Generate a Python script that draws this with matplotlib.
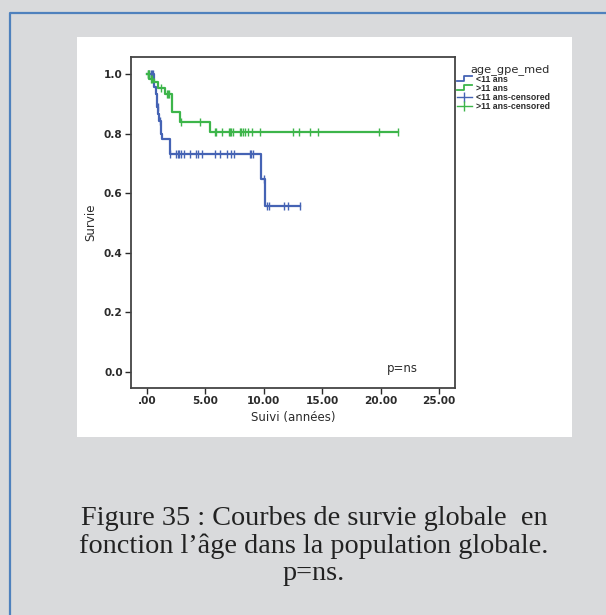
import matplotlib
matplotlib.use("Agg")
import matplotlib.pyplot as plt
import numpy as np
from matplotlib.patches import Rectangle
from matplotlib.lines import Line2D
from matplotlib.legend_handler import HandlerBase

# Kaplan-Meier steps
blue_t = [0, 0.63, 0.75, 0.85, 0.95, 1.05, 1.2, 1.3, 1.94, 9.79, 10.13, 13.07]
blue_s = [1.0, 0.956, 0.933, 0.889, 0.867, 0.844, 0.80, 0.781, 0.731, 0.649, 0.558, 0.558]
blue_cens = [0.2, 0.37, 0.45, 0.54, 0.9, 1.15, 2.0, 2.48, 2.62, 2.77, 2.91, 3.13,
             3.71, 4.22, 4.37, 4.71, 5.85, 6.22, 6.85, 7.22, 7.48, 8.84, 8.93,
             9.04, 9.98, 10.27, 10.41, 11.76, 12.04, 13.07]

green_t = [0, 0.2, 0.63, 0.91, 1.5, 2.14, 2.85, 5.42, 21.49]
green_s = [1.0, 0.983, 0.975, 0.955, 0.934, 0.872, 0.841, 0.806, 0.806]
green_cens = [0.05, 0.1, 0.15, 0.3, 0.4, 1.2, 1.7, 1.8, 1.85, 2.93, 4.51, 5.79,
              5.93, 6.42, 6.99, 7.13, 7.22, 7.36, 7.99, 8.07, 8.22, 8.42, 8.62,
              8.99, 9.70, 12.47, 12.98, 13.92, 14.61, 19.89, 21.49]

x_ticks = [0, 5, 10, 15, 20, 25]
x_labels = [".00", "5.00", "10.00", "15.00", "20.00", "25.00"]
y_ticks = [0.0, 0.2, 0.4, 0.6, 0.8, 1.0]
y_labels = ["0.0", "0.2", "0.4", "0.6", "0.8", "1.0"]

group_labels = ["<11 ans", ">11 ans", "<11 ans-censored", ">11 ans-censored"]
legend_title = "age_gpe_med"
caption = "Figure 35 : Courbes de survie globale  en\nfonction l\u2019\u00e2ge dans la population globale.\np=ns."

BLUE = "#4563b4"
GREEN = "#3db54a"
DARK = "#2b2b2b"


def surv_at(t, times, surv):
    # value of the step function at time t
    idx = np.searchsorted(times, t, side="right") - 1
    return np.asarray(surv)[idx]


class StepHandler(HandlerBase):
    def create_artists(self, legend, orig_handle, xd, yd, w, h, fontsize, trans):
        x0, y0 = -xd, -yd
        xs = [x0, x0 + w * 0.5, x0 + w * 0.5, x0 + w]
        ys = [y0 + h * 0.15, y0 + h * 0.15, y0 + h * 0.85, y0 + h * 0.85]
        ln = Line2D(xs, ys, color=orig_handle.get_color(), lw=1.3, transform=trans)
        return [ln]


fig = plt.figure(figsize=(6.06, 6.15), dpi=100, facecolor="#d9dadc")
W, H = 606.0, 615.0

# white panel and blue frame
fig.patches.append(Rectangle((77 / W, 1 - 437 / H), 495 / W, 400 / H,
                             transform=fig.transFigure, facecolor="white",
                             edgecolor="none", zorder=-2))
fig.lines.append(Line2D([10 / W, 10 / W, 1.0], [0.0, 1 - 13 / H, 1 - 13 / H],
                        transform=fig.transFigure, color="#4f81bd", lw=1.6,
                        zorder=-1))

ax = fig.add_axes([131 / W, 1 - 388 / H, 324 / W, 331 / H])
ax.set_zorder(2)
ax.set_facecolor("white")

bl, = ax.step(blue_t, blue_s, where="post", color=BLUE, lw=1.6)
gl, = ax.step(green_t, green_s, where="post", color=GREEN, lw=1.6)
ax.plot(blue_cens, surv_at(blue_cens, blue_t, blue_s), ls="none",
        marker="|", ms=6, mew=1, color=BLUE)
ax.plot(green_cens, surv_at(green_cens, green_t, green_s), ls="none",
        marker="|", ms=6, mew=1, color=GREEN)

# legend proxies for the censored marks: short line crossed by a tick
bc = Line2D([], [], color=BLUE, lw=1, marker="|", ms=7, mew=1)
gc = Line2D([], [], color=GREEN, lw=1, marker="|", ms=7, mew=1)

ax.set_xlim(-1.37, 26.37)
ax.set_ylim(-0.055, 1.058)
ax.set_xticks(x_ticks)
ax.set_xticklabels(x_labels, fontsize=7.6, fontweight="bold", color=DARK)
ax.set_yticks(y_ticks)
ax.set_yticklabels(y_labels, fontsize=7.6, fontweight="bold", color=DARK)
ax.tick_params(length=4, width=1, color=DARK, pad=2)
for sp in ax.spines.values():
    sp.set_color("#444444")
    sp.set_linewidth(1.3)

ax.set_xlabel("Suivi (ann\u00e9es)", fontsize=8.5, color=DARK, labelpad=3)
ax.set_ylabel("Survie", fontsize=8.5, color=DARK, labelpad=5)
ax.text(20.5, 0.0, "p=ns", fontsize=8.5, color=DARK)

leg = ax.legend([bl, gl, bc, gc], group_labels, title=legend_title,
                handler_map={bl: StepHandler(), gl: StepHandler()},
                loc="upper left", bbox_to_anchor=(1.0, 0.985), frameon=False,
                prop={"family": "Liberation Sans", "size": 6.3, "weight": "bold"},
                title_fontsize=8.2, handlelength=1.7, handletextpad=0.5,
                labelspacing=0.0, borderaxespad=0.1, borderpad=0.1,
                alignment="right")
for t in leg.get_texts():
    t.set_color(DARK)
leg.get_title().set_color(DARK)

fig.text(314 / W, 1 - 546 / H, caption, ha="center", va="center",
         family="Liberation Serif", fontsize=20.3, color="#222222",
         linespacing=1.1)

fig.savefig("out.png", dpi=100, facecolor=fig.get_facecolor())
